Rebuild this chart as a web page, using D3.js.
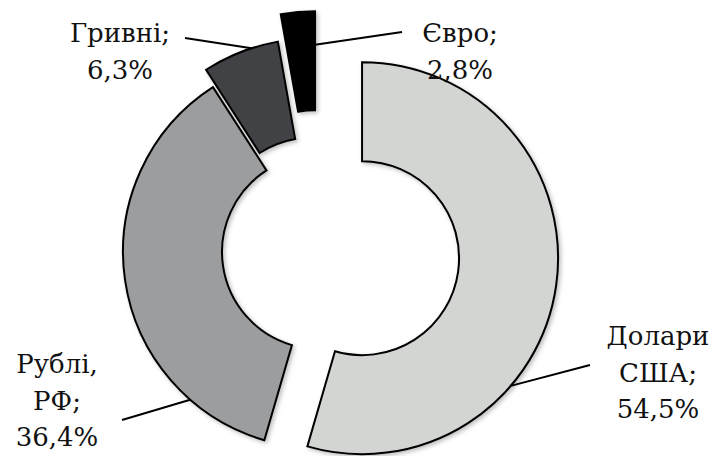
<!DOCTYPE html>
<html>
<head>
<meta charset="utf-8">
<script src="https://cdn.jsdelivr.net/npm/d3@7"></script>
<style>
  html, body { margin: 0; padding: 0; background: #fff; }
  svg { display: block; }
</style>
</head>
<body>
<svg id="chart" width="716" height="456"></svg>
<script>
// data
const currencies = ["Долари США", "Рублі, РФ", "Гривні", "Євро"];
const shares = [54.5, 36.4, 6.3, 2.8];
const labelLines = [
  ["Долари", "США;", "54,5%"],
  ["Рублі,", "РФ;", "36,4%"],
  ["Гривні;", "6,3%"],
  ["Євро;", "2,8%"]
];

// styles
const fills = ["#d3d5d3", "#9b9d9f", "#414244", "#000000"];
const explode = [43.5, 0, 18.7, 45];
const labelPos = [
  { x: 658, y: 345 },
  { x: 57, y: 373 },
  { x: 120, y: 42 },
  { x: 460, y: 42 }
];
// leader line: position along outer arc (fraction of slice) -> text end point
const leaders = [
  { t: 0.666, x2: 590, y2: 365 },
  { t: 0.19, x2: 122, y2: 420 },
  { t: 0.65, x2: 185, y2: 38 },
  { t: 1.0, x2: 402, y2: 32, atEdge: true }
];

const svg = d3.select("#chart");
const cx = 319, cy = 252;
const outerR = 196, innerR = 97;

const data = currencies.map((c, i) => ({ name: c, value: shares[i] }));

const pie = d3.pie().value(d => d.value).sort(null);
const arcs = pie(data);
const arc = d3.arc().innerRadius(innerR).outerRadius(outerR);

const defs = svg.append("defs");
const shadow = defs.append("filter").attr("id", "shadow")
  .attr("x", "-20%").attr("y", "-20%").attr("width", "140%").attr("height", "140%");
shadow.append("feDropShadow")
  .attr("dx", 2).attr("dy", 2).attr("stdDeviation", 2)
  .attr("flood-color", "#000").attr("flood-opacity", 0.25);

const g = svg.append("g").attr("transform", `translate(${cx},${cy})`);

function offset(d) {
  const mid = (d.startAngle + d.endAngle) / 2;
  const e = explode[d.index];
  return [Math.sin(mid) * e, -Math.cos(mid) * e];
}

g.selectAll("path.slice")
  .data(arcs)
  .join("path")
  .attr("class", "slice")
  .attr("d", arc)
  .attr("transform", d => `translate(${offset(d)})`)
  .attr("fill", (d, i) => fills[i])
  .attr("stroke", "#000")
  .attr("stroke-width", 2)
  .attr("filter", "url(#shadow)");

// leader lines
arcs.forEach((d, i) => {
  const [ox, oy] = offset(d);
  const L = leaders[i];
  let x1, y1;
  if (L.atEdge) {
    // on the slice's end edge, part way out from the inner radius
    const a = d.endAngle;
    const rr = innerR + (outerR - innerR) * 0.66;
    x1 = cx + ox + Math.sin(a) * rr;
    y1 = cy + oy - Math.cos(a) * rr;
  } else {
    const a = d.startAngle + (d.endAngle - d.startAngle) * L.t;
    x1 = cx + ox + Math.sin(a) * outerR;
    y1 = cy + oy - Math.cos(a) * outerR;
  }
  svg.append("line")
    .attr("x1", x1).attr("y1", y1)
    .attr("x2", L.x2).attr("y2", L.y2)
    .attr("stroke", "#000")
    .attr("stroke-width", 2);
});

// labels
labelLines.forEach((lines, i) => {
  const p = labelPos[i];
  const t = svg.append("text")
    .attr("text-anchor", "middle")
    .attr("font-family", "'DejaVu Serif', serif")
    .attr("font-size", 26)
    .attr("fill", "#111");
  lines.forEach((s, k) => {
    t.append("tspan")
      .attr("x", p.x)
      .attr("y", p.y + k * 36.5)
      .text(s);
  });
});
</script>
</body>
</html>
